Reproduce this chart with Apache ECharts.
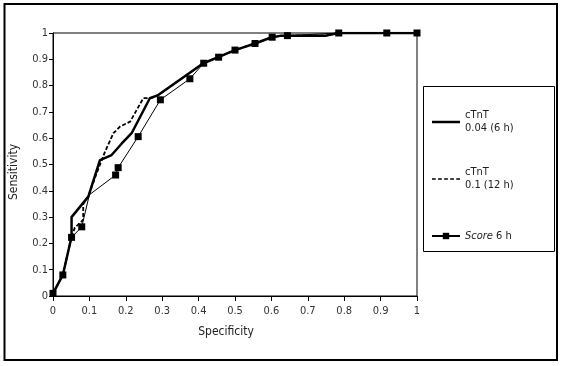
<!DOCTYPE html>
<html>
<head>
<meta charset="utf-8">
<script src="https://cdn.jsdelivr.net/npm/echarts@6/dist/echarts.min.js"></script>
<style>
	html, body { margin: 0; padding: 0; background: #fff; }
	#rocChart { width: 562px; height: 366px; }
</style>
</head>
<body>
<div id="rocChart"></div>
<script>
// points are [specificity, sensitivity]
const seriesNames = ['cTnT\n0.04 (6 h)', 'cTnT\n0.1 (12 h)', 'Score 6 h'];
const tickValues = [0, 0.1, 0.2, 0.3, 0.4, 0.5, 0.6, 0.7, 0.8, 0.9, 1];

const ctnt6h = [
	[0, 0.01], [0.027, 0.08], [0.051, 0.225], [0.051, 0.30], [0.097, 0.378],
	[0.129, 0.517], [0.161, 0.536], [0.189, 0.58], [0.216, 0.619], [0.266, 0.752],
	[0.289, 0.764], [0.413, 0.885], [0.454, 0.908], [0.5, 0.935], [0.555, 0.96],
	[0.601, 0.984], [0.628, 0.99], [0.75, 0.99], [0.785, 1], [1, 1]
];
const ctnt12h = [
	[0, 0.01], [0.027, 0.08], [0.051, 0.225], [0.06, 0.26], [0.074, 0.277],
	[0.083, 0.29], [0.083, 0.35], [0.097, 0.378], [0.12, 0.467], [0.143, 0.549],
	[0.166, 0.619], [0.184, 0.644], [0.212, 0.663], [0.248, 0.752], [0.268, 0.752],
	[0.289, 0.764], [0.413, 0.885], [0.454, 0.908], [0.5, 0.935], [0.555, 0.96],
	[0.601, 0.984], [0.628, 0.99], [0.75, 0.99], [0.785, 1], [1, 1]
];
const score6h = [
	[0, 0.01], [0.027, 0.08], [0.051, 0.223], [0.079, 0.263], [0.1, 0.385],
	[0.172, 0.46], [0.179, 0.488], [0.234, 0.606], [0.295, 0.746], [0.376, 0.826],
	[0.414, 0.885], [0.455, 0.908], [0.5, 0.935], [0.555, 0.96], [0.602, 0.984],
	[0.644, 0.99], [0.785, 1], [0.917, 1], [1, 1]
];
// the bend at 0.1 on the score line has no marker
const scoreHidden = [4];

const fontFam = "'Liberation Sans Narrow', 'DejaVu Sans Condensed', sans-serif";
const myChart = echarts.init(document.getElementById('rocChart'), null, { renderer: 'canvas' });

const option = {
	backgroundColor: '#fff',
	animation: false,
	textStyle: { fontFamily: fontFam },
	grid: {
		show: true,
		borderColor: '#000',
		borderWidth: 1,
		left: 53, right: 145, top: 33, bottom: 70
	},
	xAxis: {
		type: 'value',
		min: 0, max: 1, interval: 0.1,
		name: 'Specificity',
		nameLocation: 'middle',
		nameGap: 30,
		nameTextStyle: { fontSize: 12, color: '#222', fontFamily: fontFam, padding: [0, 18, 0, 0] },
		axisLine: { lineStyle: { color: '#000', width: 1 } },
		axisTick: { length: 5, lineStyle: { color: '#000' } },
		axisLabel: {
			fontSize: 11, color: '#333', margin: 10, fontFamily: fontFam,
			formatter: function (v) { return tickValues.indexOf(Math.round(v * 10) / 10) > -1 ? String(Math.round(v * 10) / 10) : ''; }
		},
		splitLine: { show: false }
	},
	yAxis: {
		type: 'value',
		min: 0, max: 1, interval: 0.1,
		name: 'Sensitivity',
		nameLocation: 'middle',
		nameGap: 33,
		nameTextStyle: { fontSize: 12, color: '#222', fontFamily: fontFam, padding: [0, 15, 0, 0] },
		axisLine: { show: true, lineStyle: { color: '#000', width: 1 } },
		axisTick: { show: true, length: 4, lineStyle: { color: '#000' } },
		axisLabel: {
			fontSize: 11, color: '#333', margin: 5, fontFamily: fontFam,
			formatter: function (v) { return String(Math.round(v * 10) / 10); }
		},
		splitLine: { show: false }
	},
	legend: {
		orient: 'vertical',
		left: 431, top: 109,
		padding: 0,
		itemGap: 31,
		itemWidth: 28, itemHeight: 8,
		textStyle: {
			fontSize: 11, color: '#222', lineHeight: 13, fontFamily: fontFam,
			rich: {
				it: { fontStyle: 'italic', fontSize: 11, color: '#222', lineHeight: 26, fontFamily: fontFam },
				n: { fontSize: 11, color: '#222', lineHeight: 26, fontFamily: fontFam }
			}
		},
		formatter: function (name) {
			if (name === seriesNames[2]) return '{it|Score}{n| 6 h}';
			return name;
		},
		data: [
			{ name: seriesNames[0], icon: 'path://M0,0h28v2.5h-28z', itemStyle: { color: '#000', borderWidth: 0 } },
			{ name: seriesNames[1], icon: 'path://M0,0h4v1.5h-4z M6.5,0h4v1.5h-4z M13,0h4v1.5h-4z M19.5,0h4v1.5h-4z M26,0h4v1.5h-4z', itemStyle: { color: '#000', borderWidth: 0 } },
			{ name: seriesNames[2] }
		]
	},
	graphic: [
		{ // outer frame
			type: 'rect',
			shape: { x: 4.5, y: 4, width: 552.5, height: 356 },
			style: { fill: 'none', stroke: '#000', lineWidth: 2 }
		},
		{ // legend box
			type: 'rect',
			shape: { x: 423.5, y: 86.5, width: 131, height: 165 },
			style: { fill: 'none', stroke: '#000', lineWidth: 1 }
		}
	],
	series: [
		{
			name: seriesNames[0],
			type: 'line',
			data: ctnt6h,
			symbol: 'none',
			lineStyle: { color: '#000', width: 2.5 },
			itemStyle: { color: '#000' },
			z: 3
		},
		{
			name: seriesNames[1],
			type: 'line',
			data: ctnt12h,
			symbol: 'none',
			lineStyle: { color: '#000', width: 1.8, type: [4, 2] },
			itemStyle: { color: '#000' },
			z: 2
		},
		{
			name: seriesNames[2],
			type: 'line',
			data: score6h.map(function (p, i) {
				return scoreHidden.indexOf(i) > -1 ? { value: p, symbol: 'none' } : p;
			}),
			symbol: 'rect',
			symbolSize: 7,
			lineStyle: { color: '#000', width: 1 },
			itemStyle: { color: '#000' },
			z: 4
		}
	]
};
myChart.setOption(option);
</script>
</body>
</html>
